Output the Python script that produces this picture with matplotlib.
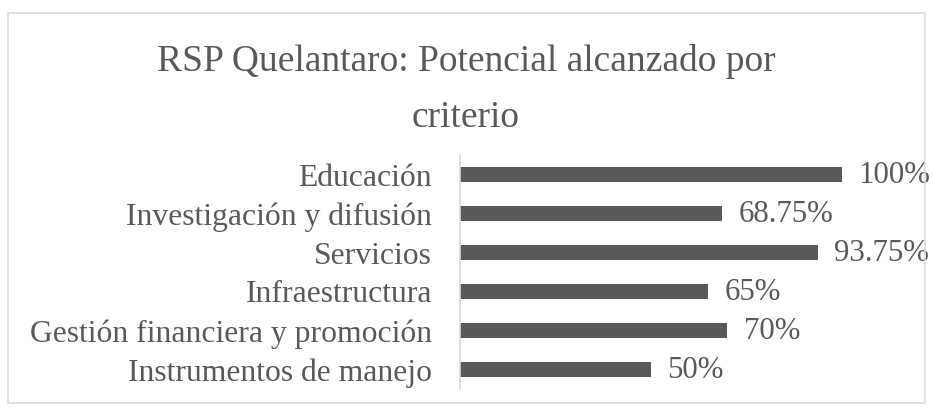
import matplotlib
matplotlib.use('Agg')
import matplotlib.pyplot as plt
from matplotlib import rcParams as rc
from matplotlib.patches import Rectangle

categories = ['Educación', 'Investigación y difusión', 'Servicios',
              'Infraestructura', 'Gestión financiera y promoción',
              'Instrumentos de manejo']
values = [1.00, 0.6875, 0.9375, 0.65, 0.70, 0.50]
value_labels = ['100%', '68.75%', '93.75%', '65%', '70%', '50%']
title_lines = ['RSP Quelantaro: Potencial alcanzado por', 'criterio']

rc['font.family'] = 'serif'
rc['font.serif'] = ['Liberation Serif', 'DejaVu Serif']

gray = '#595959'

fig = plt.figure(figsize=(9.33, 4.12), dpi=100)
W, H = 933, 412

# chart border
fig.patches.append(Rectangle((8 / W, 1 - 403 / H), (925 - 8) / W, (403 - 13) / H,
                             transform=fig.transFigure, fill=False,
                             edgecolor='#d9d9d9', linewidth=1.2))

# title, two lines placed by baseline
for line, base in zip(title_lines, [71, 127]):
    fig.text(466 / W, 1 - base / H, line, ha='center', va='baseline',
             fontsize=27, color=gray)

ax = fig.add_axes([460 / W, 1 - 389 / H, 458 / W, 234 / H])
y = list(range(len(categories)))
ax.barh(y, values, height=0.4, color=gray)
ax.set_ylim(len(categories) - 0.5, -0.5)
ax.set_xlim(0, 1.2)
ax.set_yticks(y)
ax.set_yticklabels(categories, fontsize=22.8, color=gray)
ax.tick_params(axis='y', length=0, pad=20)
ax.set_xticks([])
for s in ['top', 'right', 'bottom']:
    ax.spines[s].set_visible(False)
ax.spines['left'].set_color('#d9d9d9')
ax.spines['left'].set_linewidth(1.2)

for yi, v, lab in zip(y, values, value_labels):
    ax.annotate(lab, (v, yi), xytext=(12, -1), textcoords='offset points',
                ha='left', va='center', fontsize=22.2, color=gray)

fig.savefig('out.png', dpi=100)
